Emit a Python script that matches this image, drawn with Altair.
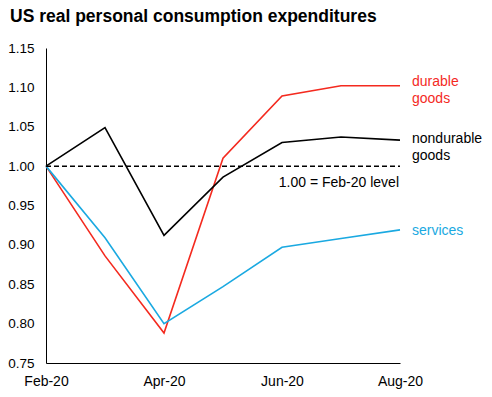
import altair as alt
import pandas as pd

months = ["Feb-20", "Mar-20", "Apr-20", "May-20", "Jun-20", "Jul-20", "Aug-20"]
durable = [1.000, 0.886, 0.788, 1.010, 1.089, 1.102, 1.102]
nondurable = [1.000, 1.049, 0.912, 0.986, 1.030, 1.037, 1.033]
services = [1.000, 0.909, 0.800, 0.847, 0.897, 0.908, 0.919]
series_names = ["durable goods", "nondurable goods", "services"]
series_colors = ["#f42a1f", "#000000", "#1aa9e1"]
label_lines = [["durable", "goods"], ["nondurable", "goods"], ["services"]]
tick_labels = ["Feb-20", "Apr-20", "Jun-20", "Aug-20"]
y_ticks = [0.75, 0.80, 0.85, 0.90, 0.95, 1.00, 1.05, 1.10, 1.15]
ref_value = 1.00
ref_text = "1.00 = Feb-20 level"

rows = []
for name, vals in zip(series_names, [durable, nondurable, services]):
    for m, v in zip(months, vals):
        rows.append({"month": m, "value": v, "series": name})
df = pd.DataFrame(rows)

FONT = "Liberation Sans"

x_scale = alt.Scale(type="point", padding=0, domain=months)
y_scale = alt.Scale(domain=[0.75, 1.15], nice=False, zero=False)
x_axis = alt.Axis(values=tick_labels, title=None, labelAngle=0,
                  labelAlign="center", labelFlush=False, labelOverlap=False,
                  labelBound=False, ticks=False, labelPadding=11, labelFontSize=14,
                  labelFont=FONT, labelColor="#000", domainColor="#000", grid=False)
y_axis = alt.Axis(values=y_ticks, format=".2f", title=None, ticks=False,
                  labelPadding=12, labelOverlap=False, labelFlush=False,
                  labelBound=False, labelFontSize=13.5, labelFont=FONT,
                  labelColor="#000", domainColor="#000", grid=False)

def xs():
    return alt.X("month:N", sort=months, scale=x_scale, axis=x_axis)

def ys():
    return alt.Y("value:Q", scale=y_scale, axis=y_axis)

lines = alt.Chart(df).mark_line(strokeWidth=1.6).encode(
    x=xs(), y=ys(),
    color=alt.Color("series:N", scale=alt.Scale(domain=series_names, range=series_colors),
                    legend=None),
)

ref_df = pd.DataFrame({"month": [months[0], months[-1]], "value": [ref_value, ref_value]})
ref = alt.Chart(ref_df).mark_line(color="#000", strokeWidth=1.5, strokeDash=[5, 3]).encode(
    x=xs(), y=ys())

ref_lbl = alt.Chart(pd.DataFrame({"month": [months[-1]], "value": [ref_value], "t": [ref_text]})).mark_text(
    align="right", baseline="middle", dx=-1, dy=17, fontSize=14, font=FONT, color="#000"
).encode(x=xs(), y=ys(), text="t:N")

last_vals = [durable[-1], nondurable[-1], services[-1]]
dys = [-4, -1, 1]
label_layers = []
for name, col, txt, v, dy in zip(series_names, series_colors, label_lines, last_vals, dys):
    ldf = pd.DataFrame({"month": [months[-1]], "value": [v], "t": [txt]})
    label_layers.append(
        alt.Chart(ldf).mark_text(align="left", baseline="middle", dx=12, dy=dy,
                                 fontSize=14, font=FONT, color=col, lineHeight=17)
        .encode(x=xs(), y=ys(), text="t:N")
    )

chart = alt.layer(lines, ref, ref_lbl, *label_layers).properties(
    width=354, height=315,
    autosize=alt.AutoSizeParams(type="none"),
    padding={"left": 38, "top": 40, "right": 84, "bottom": 34},
    title=alt.TitleParams("US real personal consumption expenditures", anchor="start",
                          font=FONT, fontSize=17.5, fontWeight="bold", color="#000",
                          frame="group", dx=-36, offset=16),
).configure(background="#ffffff").configure_view(stroke=None)

chart.save("out.html", embed_options={"renderer": "svg", "actions": False})
